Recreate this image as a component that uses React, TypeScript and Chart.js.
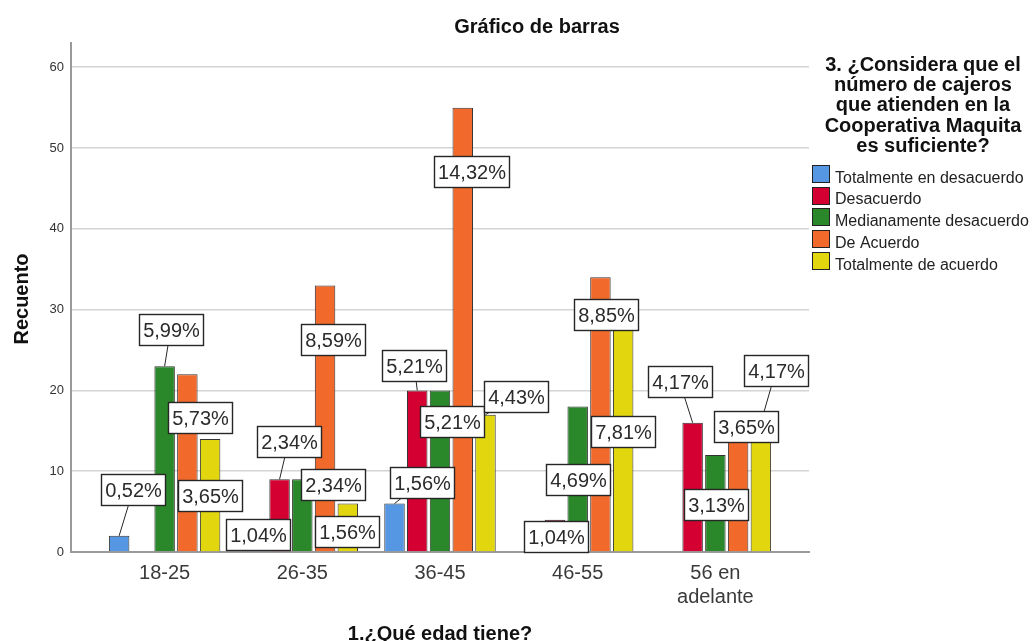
import React, { useEffect, useRef } from 'react';
import { Chart, CategoryScale, registerables } from 'chart.js';

Chart.register(...registerables);

// ---------- data ----------
const categories: (string | string[])[] = ['18-25', '26-35', '36-45', '46-55', ['56 en', 'adelante']];
const seriesNames = [
  'Totalmente en desacuerdo',
  'Desacuerdo',
  'Medianamente desacuerdo',
  'De Acuerdo',
  'Totalmente de acuerdo',
];
const totalmenteDesacuerdo = [2, 4, 6, null, null];
const desacuerdo = [null, 9, 20, 4, 16];
const medianamenteDesacuerdo = [23, 9, 20, 18, 12];
const deAcuerdo = [22, 33, 55, 34, 14];
const totalmenteDeAcuerdo = [14, 6, 17, 30, 16];
const totalN = 384;
const yTickStep = 10;
const yMax = 63;

const chartTitle = 'Gráfico de barras';
const xTitle = '1.¿Qué edad tiene?';
const yTitle = 'Recuento';
const legendTitle = ['3. ¿Considera que el', 'número de cajeros', 'que atienden en la', 'Cooperativa Maquita', 'es suficiente?'];

// ---------- styles ----------
const seriesColors = ['#5597e3', '#d50032', '#2a882a', '#f16a2c', '#e2d70f'];
const FONT = "'Liberation Sans', Arial, sans-serif";

// label box placement relative to the bar's top centre: [dx, dy, leader]
const labelOffsets: ([number, number, number] | null)[][] = [
  [[14, -46, 1], [1, 15, 0], [27, -21, 1], null, null],
  [null, [9, -38, 1], [-3, -25, 1], [1, 17, 0], [-13, -41, 1]],
  [[6, -37, 1], [31, 5, 0], [12, 31, 0], [0, 73, 0], [1, 49, 0]],
  [[13, 43, 0], [8, 54, 0], [9, 64, 0], [6, 37, 0], [8, -12, 0]],
  [[0, 57, 0], [-1, 28, 0], [31, -18, 1], [0, 122, 0], [15, -52, 1]],
];

const X_EXTRA = 0.18;

class PaddedCategoryScale extends CategoryScale {
  static id = 'paddedCategory';
  static defaults = CategoryScale.defaults;
  configure() {
    super.configure();
    const me = this as any;
    const count = me.max - me.min + 1;
    me._startValue = me.min - 0.5 - X_EXTRA;
    me._valueRange = count + 2 * X_EXTRA;
  }
}
Chart.register(PaddedCategoryScale as any);

const fmtPct = (v: number) => ((v / totalN) * 100).toFixed(2).replace('.', ',') + '%';

const overlayPlugin = {
  id: 'overlay',
  afterDatasetsDraw(chart: any) {
    const ctx: CanvasRenderingContext2D = chart.ctx;
    ctx.save();
    // leaders
    ctx.strokeStyle = '#262626';
    ctx.lineWidth = 1;
    chart.data.datasets.forEach((ds: any, d: number) => {
      const meta = chart.getDatasetMeta(d);
      ds.data.forEach((v: number | null, c: number) => {
        const off = labelOffsets[d][c];
        if (v == null || !off || !off[2]) return;
        const el = meta.data[c];
        ctx.beginPath();
        ctx.moveTo(el.x, el.y);
        ctx.lineTo(el.x + off[0], el.y + off[1]);
        ctx.stroke();
      });
    });
    // boxes
    ctx.font = `20px ${FONT}`;
    ctx.textAlign = 'center';
    ctx.textBaseline = 'middle';
    chart.data.datasets.forEach((ds: any, d: number) => {
      const meta = chart.getDatasetMeta(d);
      ds.data.forEach((v: number | null, c: number) => {
        const off = labelOffsets[d][c];
        if (v == null || !off) return;
        const el = meta.data[c];
        const txt = fmtPct(v);
        const tw = ctx.measureText(txt).width;
        const w = Math.round(tw + 7);
        const h = 31;
        const cx = el.x + off[0];
        const cy = el.y + off[1];
        const x0 = Math.round(cx - w / 2) + 0.5;
        const y0 = Math.round(cy - h / 2) + 0.5;
        ctx.fillStyle = '#ffffff';
        ctx.fillRect(x0, y0, w, h);
        ctx.strokeStyle = '#262626';
        ctx.lineWidth = 1.4;
        ctx.strokeRect(x0, y0, w, h);
        ctx.fillStyle = '#2b2b2b';
        ctx.fillText(txt, x0 + w / 2, y0 + h / 2 + 1);
      });
    });
    ctx.restore();
  },
  afterDraw(chart: any) {
    const ctx: CanvasRenderingContext2D = chart.ctx;
    const area = chart.chartArea;
    ctx.save();
    ctx.fillStyle = '#111';
    // chart title
    ctx.font = `bold 20px ${FONT}`;
    ctx.textAlign = 'center';
    ctx.textBaseline = 'alphabetic';
    ctx.fillText(chartTitle, 537, 33);
    // x title
    ctx.fillText(xTitle, (area.left + area.right) / 2, 640);
    // y title
    ctx.save();
    ctx.translate(28, 299);
    ctx.rotate(-Math.PI / 2);
    ctx.fillText(yTitle, 0, 0);
    ctx.restore();
    // legend title
    const lx = 923;
    legendTitle.forEach((line, i) => {
      ctx.fillText(line, lx, 70.7 + i * 20.3);
    });
    // legend items
    ctx.font = `16px ${FONT}`;
    ctx.textAlign = 'left';
    seriesNames.forEach((name, i) => {
      const y = 165 + i * 21.7;
      ctx.fillStyle = seriesColors[i];
      ctx.fillRect(812.5, Math.round(y) + 0.5, 17, 17);
      ctx.strokeStyle = '#222';
      ctx.lineWidth = 1;
      ctx.strokeRect(812.5, Math.round(y) + 0.5, 17, 17);
      ctx.fillStyle = '#222';
      ctx.fillText(name, 835, y + 17.7);
    });
    ctx.restore();
  },
};

export default function App() {
  const ref = useRef<HTMLCanvasElement | null>(null);
  useEffect(() => {
    if (!ref.current) return;
    const series = [totalmenteDesacuerdo, desacuerdo, medianamenteDesacuerdo, deAcuerdo, totalmenteDeAcuerdo];
    const chart = new Chart(ref.current, {
      type: 'bar',
      data: {
        labels: categories as any,
        datasets: series.map((vals, i) => ({
          label: seriesNames[i],
          data: vals as any,
          backgroundColor: seriesColors[i],
          borderColor: '#333333',
          borderWidth: 1,
          categoryPercentage: 0.826,
          barPercentage: 0.9,
        })),
      },
      options: {
        responsive: false,
        animation: false,
        events: [],
        layout: { padding: { left: 0, right: 226, top: 43, bottom: 0 } },
        plugins: {
          legend: { display: false },
          title: { display: false },
          tooltip: { enabled: false },
        },
        scales: {
          x: {
            type: 'paddedCategory' as any,
            offset: true,
            grid: { display: false, drawTicks: false },
            border: { display: true, color: '#9a9a9a', width: 2 },
            ticks: {
              font: { family: FONT, size: 20 },
              color: '#3a3a3a',
              padding: 9,
              maxRotation: 0,
              autoSkip: false,
            },
            afterFit: (s: any) => {
              s.height = 89;
              s.paddingLeft = 0;
              s.paddingRight = 0;
            },
          } as any,
          y: {
            min: 0,
            max: yMax,
            ticks: {
              stepSize: yTickStep,
              includeBounds: false,
              font: { family: FONT, size: 13 },
              color: '#333',
              padding: 7,
            },
            grid: { color: '#d4d4d4', lineWidth: 1.5, drawTicks: false },
            border: { display: true, color: '#9a9a9a', width: 2 },
            afterFit: (s: any) => {
              s.width = 71;
              s.paddingTop = 0;
              s.paddingBottom = 0;
            },
          } as any,
        },
      },
      plugins: [overlayPlugin],
    });
    return () => chart.destroy();
  }, []);
  return (
    <div style={{ position: 'absolute', left: 0, top: 0, width: 1035, height: 641, background: '#fff' }}>
      <canvas ref={ref} width={1035} height={641} style={{ display: 'block' }} />
    </div>
  );
}
